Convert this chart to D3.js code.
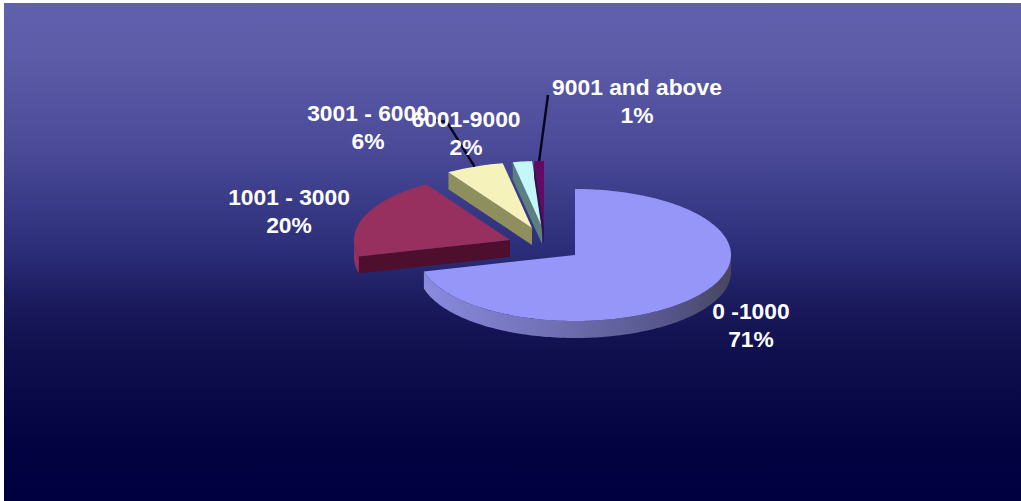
<!DOCTYPE html>
<html>
<head>
<meta charset="utf-8">
<style>
  html, body { margin: 0; padding: 0; background: #fff; }
  svg { display: block; }
  text { font-family: "Liberation Sans", Arial, sans-serif; font-weight: 700; fill: #fff; text-anchor: middle; }
</style>
<script src="https://cdn.jsdelivr.net/npm/d3@7"></script>
</head>
<body>
<script>
// Share of records by value band
const categories = ["0 -1000", "1001 - 3000", "3001 - 6000", "6001-9000", "9001 and above"];
const shares = [71, 20, 6, 2, 1];

// Palette per band: top face and side wall
const topColors = ["#9696f8", "#97305f", "#f6f2bc", "#c4f8f8", "#640a62"];
const wallColors = ["#8080c8", "#4e0f2e", "#8f8f5e", "#5c8080", "#33104f"];

// Pull-out of each slice from the pie centre, in px
const explodeX = [0, -65, -43, -33, -31];
const explodeY = [0, -15, -27, -28, -28];

// Label centre per band, in px from the left/top of the page
const labelX = [751, 289, 368, 466, 637];
const labelY = [319, 205, 121, 127, 95];

const width = 1021, height = 501;
const cx = 575, cy = 255, rx = 156, ry = 66, depth = 17;

const svg = d3.select("body").append("svg").attr("width", width).attr("height", height);
const defs = svg.append("defs");

const bg = defs.append("linearGradient").attr("id", "bg").attr("x1", 0).attr("y1", 0).attr("x2", 0).attr("y2", 1);
[[0, "#6060ae"], [0.1, "#5c5ca9"], [0.295, "#4a4a98"], [0.5, "#2b2d78"], [0.6, "#1a1a5e"], [0.7, "#10104e"], [0.88, "#030342"], [1, "#000040"]]
  .forEach(([o, c]) => bg.append("stop").attr("offset", o).attr("stop-color", c));

const wallShade = defs.append("linearGradient").attr("id", "wallShade").attr("x1", 0).attr("x2", 1).attr("y1", 0).attr("y2", 0);
[[0, "#8a8ae0"], [0.45, "#6e6eb0"], [0.8, "#55558a"], [1, "#47475e"]]
  .forEach(([o, c]) => wallShade.append("stop").attr("offset", o).attr("stop-color", c));

svg.append("rect").attr("x", 4).attr("y", 3).attr("width", width - 4).attr("height", height - 3).attr("fill", "url(#bg)");

// Tilted disc projection: angle is clockwise from twelve o'clock
const sx = d3.scaleLinear().domain([-1, 1]).range([-rx, rx]);
const sy = d3.scaleLinear().domain([-1, 1]).range([-ry, ry]);
const project = (a, ox, oy, drop = 0) => [cx + ox + sx(Math.sin(a)), cy + oy + sy(-Math.cos(a)) + drop];
const line = d3.line();

const arcs = d3.pie().sort(null).value(d => d)(shares);

const sweep = (a0, a1, ox, oy, drop) => {
  const n = Math.max(2, Math.ceil((a1 - a0) / 0.02));
  return d3.range(n + 1).map(i => project(a0 + (a1 - a0) * i / n, ox, oy, drop));
};

arcs.forEach((d, i) => {
  const ox = explodeX[i], oy = explodeY[i];
  const g = svg.append("g").attr("class", "slice");
  const apex = [cx + ox, cy + oy];
  const apexLow = [apex[0], apex[1] + depth];

  // Rim wall: only the part of the arc on the near half of the disc
  const a0 = Math.max(d.startAngle, Math.PI / 2), a1 = Math.min(d.endAngle, 3 * Math.PI / 2);
  if (a1 > a0) {
    const upper = sweep(a0, a1, ox, oy, 0);
    const lower = sweep(a0, a1, ox, oy, depth).reverse();
    g.append("path")
      .attr("d", line(upper.concat(lower)) + "Z")
      .attr("fill", i === 0 ? "url(#wallShade)" : topColors[i]);
  }

  // Radial wall on the leading edge, when it faces the viewer
  if (Math.sin(d.startAngle) < -1e-6) {
    const p = project(d.startAngle, ox, oy);
    g.append("path")
      .attr("d", line([apex, p, [p[0], p[1] + depth], apexLow]) + "Z")
      .attr("fill", wallColors[i]);
  }

  // Top face
  g.append("path")
    .attr("d", line([apex].concat(sweep(d.startAngle, d.endAngle, ox, oy, 0))) + "Z")
    .attr("fill", topColors[i]);
});

// Leader lines for the two narrow bands, running from the label to the slice rim
const leader = (i, from) => {
  const a = (arcs[i].startAngle + arcs[i].endAngle) / 2;
  const end = project(a, explodeX[i], explodeY[i]);
  svg.append("path")
    .attr("d", line(from.concat([end])))
    .attr("fill", "none").attr("stroke", "#05051e").attr("stroke-width", 2.4);
};
leader(2, [[434, 120], [447, 122]]);
leader(4, [[548, 95]]);

// Two-line labels: band name above its percentage
categories.forEach((name, i) => {
  const t = svg.append("text").attr("x", labelX[i]).attr("y", labelY[i])
    .attr("font-size", 22.8);
  t.append("tspan").attr("x", labelX[i]).text(name);
  t.append("tspan").attr("x", labelX[i]).attr("dy", 27.5).text(shares[i] + "%");
});
</script>
</body>
</html>
